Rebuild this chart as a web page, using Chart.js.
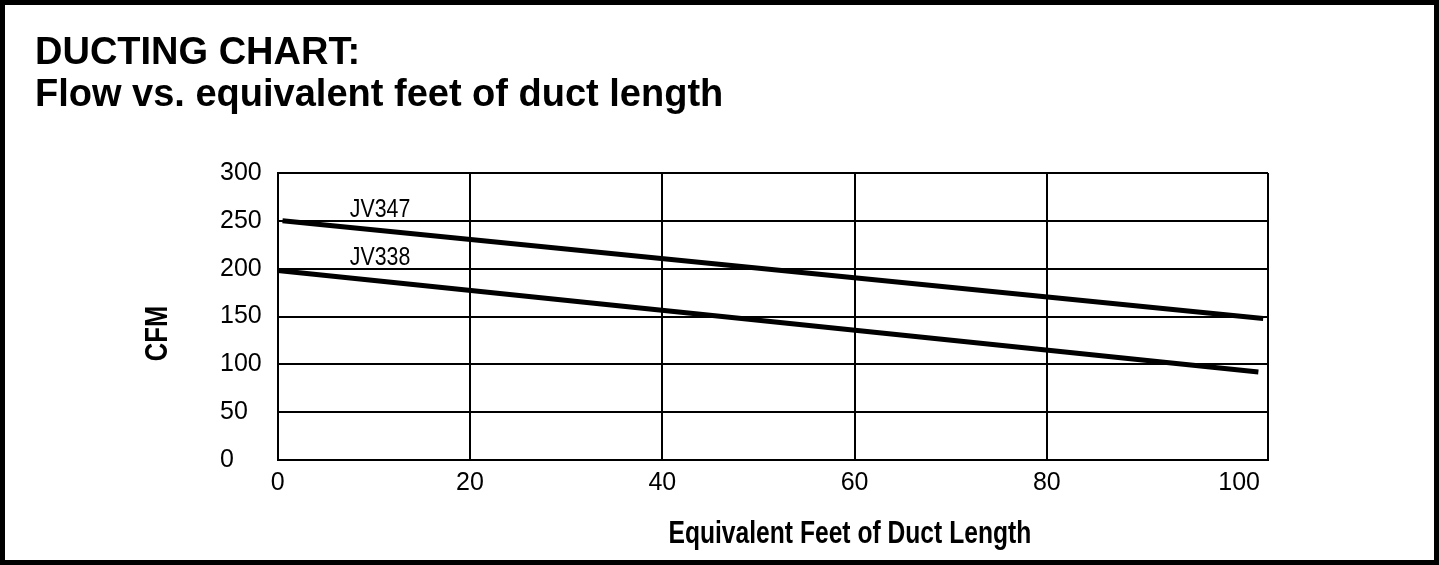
<!DOCTYPE html>
<html>
<head>
<meta charset="utf-8">
<script src="https://cdn.jsdelivr.net/npm/chart.js@4.4.1/dist/chart.umd.min.js"></script>
<style>
  html, body { margin: 0; padding: 0; background: #fff; }
  #wrap { position: relative; width: 1439px; height: 565px; overflow: hidden; }
  #frame { position: absolute; left: 0; top: 0; width: 1439px; height: 565px; box-sizing: border-box; border: 5px solid #000; pointer-events: none; }
  #title { position: absolute; left: 35px; top: 30px; font: bold 38px/42px "Liberation Sans", Arial, sans-serif; color: #000; white-space: nowrap; }
  canvas { position: absolute; left: 0; top: 0; }
</style>
</head>
<body>
<div id="wrap">
  <canvas id="ductChart" width="1439" height="565"></canvas>
  <div id="title">DUCTING CHART:<br>Flow vs. equivalent feet of duct length</div>
  <div id="frame"></div>
</div>
<script>
// values
const seriesNames = ["JV347", "JV338"];
const jv347Feet = [0.5, 102.5];
const jv347Cfm = [250, 148];
const jv338Feet = [0, 102];
const jv338Cfm = [198, 92];
const xTicks = [0, 20, 40, 60, 80, 100];
const yTicks = [0, 50, 100, 150, 200, 250, 300];
const xTitle = "Equivalent Feet of Duct Length";
const yTitle = "CFM";

const sans = "'Liberation Sans', Arial, sans-serif";
const xMax = 103;
const labelFeet = 7.5;
const labelCfm = [250, 200];

const toPoints = (xs, ys) => xs.map((x, i) => ({ x, y: ys[i] }));

// draw text squeezed sideways, to get near the condensed face of the original
function narrowText(ctx, text, x, y, squeeze) {
  ctx.save();
  ctx.translate(x, y);
  ctx.scale(squeeze, 1);
  ctx.fillText(text, 0, 0);
  ctx.restore();
}

// series names and both axis titles
const textPlugin = {
  id: "ductText",
  afterDraw(chart) {
    const { ctx, chartArea, scales } = chart;
    ctx.save();
    ctx.fillStyle = "#000";
    ctx.font = "26px " + sans;
    ctx.textAlign = "left";
    ctx.textBaseline = "alphabetic";
    seriesNames.forEach((name, i) => {
      const x = scales.x.getPixelForValue(labelFeet);
      const y = scales.y.getPixelForValue(labelCfm[i]) - 4;
      narrowText(ctx, name, x, y, 0.82);
    });

    ctx.font = "bold 32px " + sans;
    ctx.textAlign = "center";
    narrowText(ctx, xTitle, (chartArea.left + chartArea.right) / 2 + 77, 543, 0.77);

    ctx.textBaseline = "middle";
    ctx.translate(chartArea.left - 120, (chartArea.top + chartArea.bottom) / 2 + 17);
    ctx.rotate(-Math.PI / 2);
    narrowText(ctx, yTitle, 0, 0, 0.8);
    ctx.restore();
  },
};

const lineStyle = {
  showLine: true,
  borderColor: "#000",
  borderWidth: 5,
  pointRadius: 0,
  fill: false,
};

new Chart(document.getElementById("ductChart"), {
  type: "scatter",
  data: {
    datasets: [
      { label: seriesNames[0], data: toPoints(jv347Feet, jv347Cfm), ...lineStyle },
      { label: seriesNames[1], data: toPoints(jv338Feet, jv338Cfm), ...lineStyle },
    ],
  },
  options: {
    responsive: false,
    animation: false,
    layout: { padding: { left: 220, top: 173, right: 171, bottom: 59 } },
    plugins: {
      legend: { display: false },
      tooltip: { enabled: false },
    },
    scales: {
      x: {
        type: "linear",
        min: 0,
        max: xMax,
        afterBuildTicks: (axis) => {
          axis.ticks = [...xTicks, xMax].map((v) => ({ value: v }));
        },
        ticks: {
          autoSkip: false,
          maxRotation: 0,
          padding: 8,
          color: "#000",
          font: { family: sans, size: 25 },
          callback: (v) => (xTicks.includes(v) ? v : ""),
        },
        grid: {
          // no line at 100 in the original, only the frame at the far right
          color: (c) => (c.tick && c.tick.value === 100 ? "rgba(0,0,0,0)" : "#000"),
          lineWidth: 2,
          drawTicks: false,
        },
        border: { color: "#000", width: 2 },
      },
      y: {
        min: 0,
        max: 300,
        afterBuildTicks: (axis) => {
          axis.ticks = yTicks.map((v) => ({ value: v }));
        },
        ticks: {
          padding: 8,
          crossAlign: "far",
          color: "#000",
          font: { family: sans, size: 25 },
        },
        grid: { color: "#000", lineWidth: 2, drawTicks: false },
        border: { color: "#000", width: 2 },
      },
    },
  },
  plugins: [textPlugin],
});
</script>
</body>
</html>
